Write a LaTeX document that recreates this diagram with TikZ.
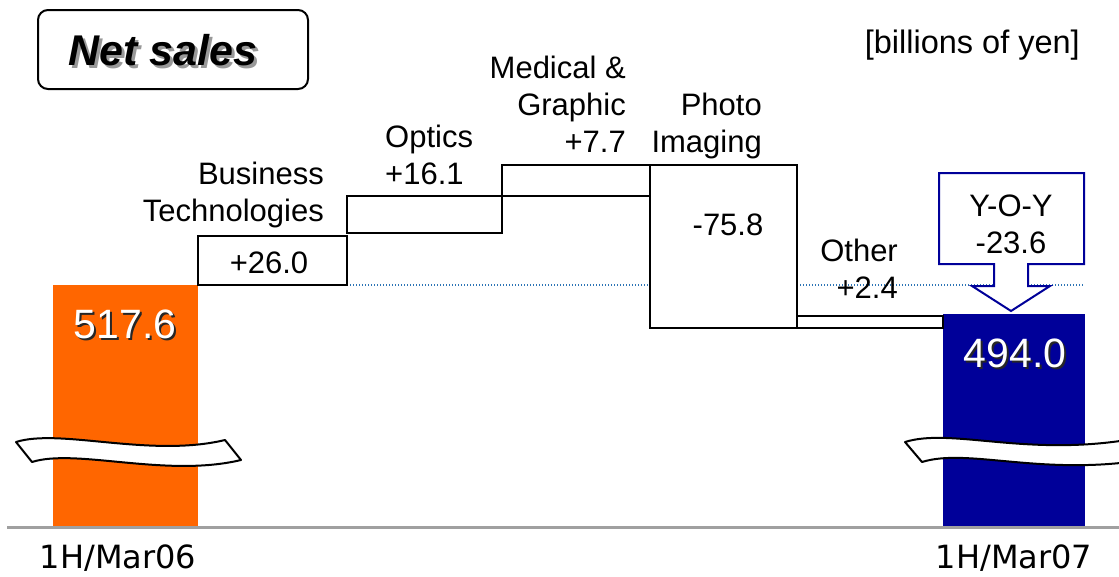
\documentclass[tikz,border=0pt]{standalone}
\usepackage{fontspec}
\setmainfont{Liberation Sans}
\newfontfamily\datefont{DejaVu Sans}
\definecolor{salesorange}{HTML}{FF6600}
\definecolor{salesnavy}{HTML}{000099}
\definecolor{levelblue}{HTML}{2E75B6}
\definecolor{axisgray}{HTML}{A0A0A0}

\tikzset{
  sales/.style={
    lbl/.style={inner sep=0pt, font=\fontsize{31}{37}\selectfont},
    deltabox/.style={draw=black, line width=1.8pt, fill=white},
    barval/.style={inner sep=0pt, text=white, font=\fontsize{41}{41}\selectfont},
    barshade/.style={barval, text=black!85},
    breakband/.style={draw=black, line width=2pt, fill=white, line join=round},
  }
}

\begin{document}
\begin{tikzpicture}[x=1pt, y=-1pt, sales]
        \tikzstyle{datelbl}=[inner sep=0pt, font=\datefont\fontsize{32}{32}\selectfont]
        \tikzstyle{yoy}=[draw=salesnavy, line width=2pt, fill=white, line join=miter]

        \useasboundingbox (0,0) rectangle (1119,576);

        % title and unit
        \draw[line width=2pt, rounded corners=10pt] (38,10) rectangle (308,89);
        \node[inner sep=0pt, anchor=base, text=black!40, font=\fontsize{43}{43}\selectfont\bfseries\itshape] (title-s) at (166,68) {Net sales};
        \node[inner sep=0pt, anchor=base, font=\fontsize{43}{43}\selectfont\bfseries\itshape] (title) at (163,65) {Net sales};
        \node[lbl, anchor=base east, font=\fontsize{32.5}{32.5}\selectfont] (unit) at (1080,53) {[billions of yen]};

        % level of 1H/Mar06
        \draw[levelblue, line width=1.3pt, dash pattern=on 1.4pt off 1.6pt] (347,285) -- (1083,285);

        % bars
        \fill[salesorange] (53,285) rectangle (198,527);
        \fill[salesnavy] (943,314) rectangle (1085,527);
        \draw[axisgray, line width=3pt] (7,527) -- (1119,527);

        % steps
        \draw[deltabox] (198,236) rectangle (347,285);
        \draw[deltabox] (347,196) rectangle (502,233);
        \draw[deltabox] (502,165) rectangle (650,196);
        \draw[deltabox] (650,165) rectangle (797,328);
        \draw[deltabox] (797,316) rectangle (943,328);

        \node[lbl, anchor=base] (bt-val) at (269,273) {+26.0};
        \node[lbl, anchor=base] (pi-val) at (728,235) {-75.8};

        \node[lbl, anchor=base east, align=right] (bt) at (324,221) {Business\\Technologies};
        \node[lbl, anchor=base west, align=left] (opt) at (385,184) {Optics\\+16.1};
        \node[lbl, anchor=base east, align=right] (mg) at (626,152) {Medical \&\\Graphic\\+7.7};
        \node[lbl, anchor=base east, align=right] (pi) at (762,152) {Photo\\Imaging};
        \node[lbl, anchor=base east, align=right] (oth) at (898,298) {Other\\+2.4};

        % year-on-year arrow
        \draw[yoy] (939,173) -- (1084,173) -- (1084,264) -- (1028,264) -- (1028,286) -- (1050,286)
          -- (1011,311) -- (972,286) -- (994,286) -- (994,264) -- (939,264) -- cycle;
        \node[lbl, anchor=base, align=center] (yoy-val) at (1011,253) {Y-O-Y\\-23.6};

        % bar values
        \node[barshade, anchor=base] (v06-s) at (127,340) {517.6};
        \node[barval, anchor=base] (v06) at (125,338) {517.6};
        \node[barshade, anchor=base] (v07-s) at (1017,369) {494.0};
        \node[barval, anchor=base] (v07) at (1015,367) {494.0};

        % axis breaks
        \draw[breakband] (16,442) .. controls (60,428) and (150,458) .. (225,440) -- (241,460)
          .. controls (166,478) and (76,448) .. (32,462) -- cycle;
        \draw[breakband] (905,442) .. controls (950,428) and (1020,455) .. (1120,441) -- (1137,461)
          .. controls (1037,475) and (967,448) .. (922,462) -- cycle;

        \node[datelbl, anchor=base] (d06) at (118,568) {1H/Mar06};
        \node[datelbl, anchor=base] (d07) at (1014,568) {1H/Mar07};
    \end{tikzpicture}
\end{document}
